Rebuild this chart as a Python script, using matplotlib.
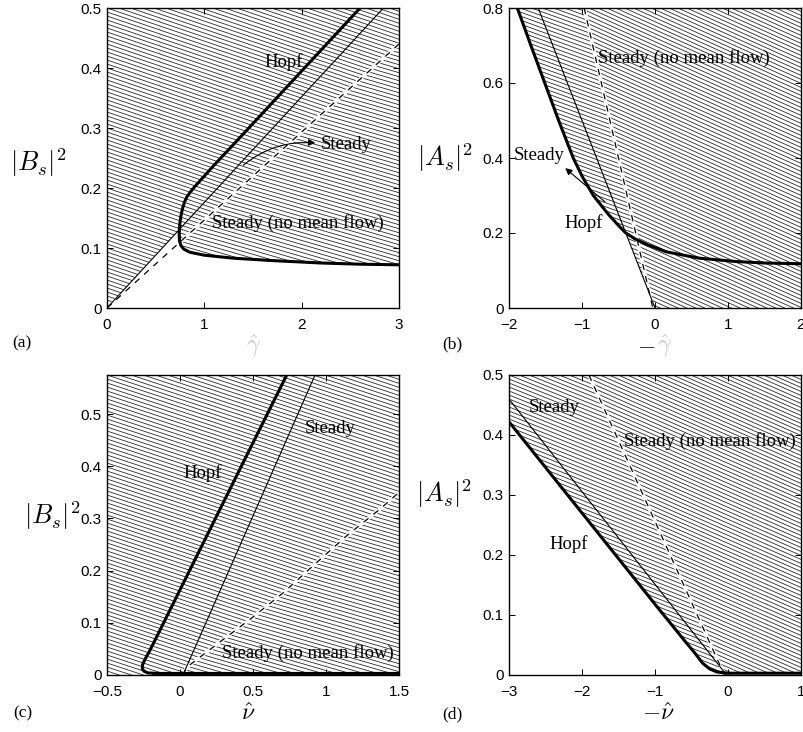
import numpy as np
import matplotlib
matplotlib.use('Agg')
import matplotlib.pyplot as plt
from matplotlib.patches import Polygon
from matplotlib.collections import LineCollection
from matplotlib.ticker import FuncFormatter

plt.rcParams['mathtext.fontset'] = 'cm'
plt.rcParams['font.family'] = 'Liberation Sans'

# --- données ---
# (a)  |B_s|^2 en fonction de gamma
hopf_a_x = [2.60, 2.2, 1.8, 1.4, 1.1, 1.0, 0.9, 0.85, 0.82, 0.795, 0.775, 0.76, 0.75, 0.744, 0.742,
            0.745, 0.76, 0.79, 0.85, 1.0, 1.3, 1.7, 2.2, 2.6, 3.0]
hopf_a_y = [0.5, 0.43, 0.36, 0.29, 0.238, 0.22, 0.202, 0.192, 0.185, 0.176, 0.165, 0.154, 0.143, 0.132, 0.122,
            0.112, 0.104, 0.098, 0.093, 0.088, 0.083, 0.079, 0.075, 0.073, 0.072]
steady_a_x = [0.0, 2.84]
steady_a_y = [0.0, 0.5]
nomf_a_x = [0.0, 3.0]
nomf_a_y = [0.0, 0.44]

# (b)  |A_s|^2 en fonction de -gamma
hopf_b_x = [-1.886, -1.70, -1.51, -1.32, -1.12, -0.995, -0.845, -0.64, -0.50, -0.40, -0.28, -0.12, 0.15, 0.6, 1.1, 1.5, 2.0]
hopf_b_y = [0.8, 0.7, 0.6, 0.5, 0.4, 0.35, 0.3, 0.25, 0.22, 0.2, 0.185, 0.17, 0.15, 0.133, 0.124, 0.12, 0.118]
steady_b_x = [-1.6, 0.0]
steady_b_y = [0.8, 0.0]
nomf_b_x = [-0.97, -0.03]
nomf_b_y = [0.8, 0.0]

# (c)  |B_s|^2 en fonction de nu
hopf_c_x = [0.731, 0.45, 0.2, -0.05, -0.16, -0.21, -0.24, -0.256, -0.258, -0.245, -0.22, -0.15, 0.0, 0.5, 1.0, 1.5]
hopf_c_y = [0.575, 0.417, 0.276, 0.135, 0.073, 0.045, 0.03, 0.02, 0.012, 0.007, 0.004, 0.003, 0.003, 0.003, 0.003, 0.003]
steady_c_x = [0.02, 0.925]
steady_c_y = [0.0, 0.575]
nomf_c_x = [0.02, 0.047, 0.253, 0.481, 0.709, 0.914, 1.142, 1.37, 1.5]
nomf_c_y = [0.0, 0.015, 0.059, 0.107, 0.158, 0.21, 0.267, 0.318, 0.35]

# (d)  |A_s|^2 en fonction de -nu
hopf_d_x = [-3.0, -2.0, -1.0, -0.6, -0.45, -0.35, -0.25, -0.15, 0.0, 0.5, 1.0]
hopf_d_y = [0.422, 0.27, 0.118, 0.058, 0.036, 0.02, 0.01, 0.005, 0.003, 0.003, 0.003]
steady_d_x = [-3.0, -0.02]
steady_d_y = [0.46, 0.0]
nomf_d_x = [-1.905, -0.05]
nomf_d_y = [0.5, 0.0]

SERIF = 'Liberation Serif'
FS_TXT = 13.5
FS_YLAB = 19
FS_XLAB = 17


def hachurer(ax, px, py, pente, ecart=4.0, fond=False, z=1.0):
    """Hachures obliques (pente en pixels) limitées au polygone (px, py) en coordonnées données"""
    poly = Polygon(np.column_stack([px, py]), closed=True,
                   facecolor='white' if fond else 'none', edgecolor='none', zorder=z)
    ax.add_patch(poly)
    fig = ax.figure
    bb = ax.get_position()
    w = bb.width * fig.get_figwidth() * fig.dpi
    h = bb.height * fig.get_figheight() * fig.dpi
    chute = pente * w / h
    pas = ecart / h
    decal = np.arange(0.0, 1.0 + chute + pas, pas)
    segs = [[(0.0, c), (1.0, c - chute)] for c in decal]
    lc = LineCollection(segs, colors='#2a2a2a', linewidths=0.6,
                        transform=ax.transAxes, zorder=z + 0.05)
    lc.set_clip_path(poly)
    ax.add_collection(lc, autolim=False)


def bande(xs, bas, haut):
    return np.concatenate([xs, xs[::-1]]), np.concatenate([bas, haut[::-1]])


def tracer_courbes(ax, hx, hy, sx, sy, nx, ny):
    ax.plot(nx, ny, color='white', lw=2.6, zorder=2, solid_capstyle='butt')
    ax.plot(nx, ny, color='black', lw=0.9, dashes=(5, 5), zorder=3)
    ax.plot(sx, sy, color='black', lw=0.8, zorder=3)
    ax.plot(hx, hy, color='black', lw=2.2, zorder=4, solid_joinstyle='round')


def habiller(ax, xlim, ylim, xticks, yticks):
    ax.set_xlim(*xlim)
    ax.set_ylim(*ylim)
    ax.set_xticks(xticks)
    ax.set_yticks(yticks)
    fmt = FuncFormatter(lambda v, p: f'{v:g}'.replace('-', '\u2212'))
    ax.xaxis.set_major_formatter(fmt)
    ax.yaxis.set_major_formatter(fmt)
    ax.tick_params(direction='in', top=True, right=True, length=4, width=0.7, labelsize=11)
    ax.tick_params(axis='x', pad=7.5)
    ax.tick_params(axis='y', pad=4)
    for s in ax.spines.values():
        s.set_linewidth(1.0)
        s.set_zorder(5)


fig = plt.figure(figsize=(8.04, 7.32), dpi=100)
W, H = 804, 732
ax_a = fig.add_axes([107 / W, (H - 308) / H, 292 / W, 300 / H])
ax_b = fig.add_axes([509 / W, (H - 308) / H, 292 / W, 300 / H])
ax_c = fig.add_axes([107 / W, (H - 675) / H, 292 / W, 300 / H])
ax_d = fig.add_axes([509 / W, (H - 675) / H, 292 / W, 300 / H])

# ---------------- (a)
tip = int(np.argmin(hopf_a_x))
low_x = np.array(hopf_a_x[tip:])
low_y = np.array(hopf_a_y[tip:])
xs = np.linspace(0, 3, 400)
bas = np.minimum(np.interp(xs, steady_a_x, steady_a_y), np.interp(xs, low_x, low_y))
hachurer(ax_a, *bande(xs, bas, np.full_like(xs, 0.5)), pente=0.34)
xs = np.linspace(0.78, 3, 300)
hachurer(ax_a, *bande(xs, np.interp(xs, low_x, low_y), np.interp(xs, nomf_a_x, nomf_a_y)),
         pente=0.29, fond=True, z=1.2)
tracer_courbes(ax_a, hopf_a_x, hopf_a_y, steady_a_x, steady_a_y, nomf_a_x, nomf_a_y)
habiller(ax_a, (0, 3), (0, 0.5), [0, 1, 2, 3], np.arange(0, 0.51, 0.1))
ax_a.text(1.82, 0.41, 'Hopf', family=SERIF, fontsize=FS_TXT, ha='center', va='center', zorder=6)
ax_a.text(2.2, 0.272, 'Steady', family=SERIF, fontsize=FS_TXT, ha='left', va='center', zorder=6)
ax_a.text(1.96, 0.142, 'Steady (no mean flow)', family=SERIF, fontsize=FS_TXT, ha='center', va='center', zorder=6)
ax_a.annotate('', xy=(2.14, 0.275), xytext=(1.4, 0.238), zorder=6,
              arrowprops=dict(arrowstyle='-|>', lw=0.8, color='black', mutation_scale=10,
                              connectionstyle='arc3,rad=-0.2', shrinkA=0, shrinkB=0))
ax_a.text(-0.236, 0.483, r'$|B_s|^2$', transform=ax_a.transAxes, fontsize=FS_YLAB, ha='center', va='center')
ax_a.text(0.5, -0.125, r'$\hat{\gamma}$', transform=ax_a.transAxes, fontsize=FS_XLAB, ha='center', va='center', color='#c8c8c8')
ax_a.text(-0.29, -0.117, '(a)', transform=ax_a.transAxes, family=SERIF, fontsize=12.5, ha='center', va='center')

# ---------------- (b)
xs = np.linspace(-1.886, 2, 400)
bas = np.minimum(np.interp(xs, hopf_b_x, hopf_b_y), np.interp(xs, steady_b_x, steady_b_y))
hachurer(ax_b, *bande(xs, bas, np.full_like(xs, 0.8)), pente=0.36)
xs2 = np.linspace(-0.97, 2, 300)
bas2 = np.maximum(np.interp(xs2, nomf_b_x, nomf_b_y),
                  np.minimum(np.interp(xs2, hopf_b_x, hopf_b_y), np.interp(xs2, steady_b_x, steady_b_y)))
hachurer(ax_b, *bande(xs2, bas2, np.full_like(xs2, 0.8)), pente=0.45, fond=True, z=1.2)
tracer_courbes(ax_b, hopf_b_x, hopf_b_y, steady_b_x, steady_b_y, nomf_b_x, nomf_b_y)
habiller(ax_b, (-2, 2), (0, 0.8), [-2, -1, 0, 1, 2], np.arange(0, 0.81, 0.2))
ax_b.text(0.40, 0.667, 'Steady (no mean flow)', family=SERIF, fontsize=FS_TXT, ha='center', va='center', zorder=6)
ax_b.text(-1.59, 0.408, 'Steady', family=SERIF, fontsize=FS_TXT, ha='center', va='center', zorder=6)
ax_b.text(-0.97, 0.227, 'Hopf', family=SERIF, fontsize=FS_TXT, ha='center', va='center', zorder=6)
ax_b.annotate('', xy=(-1.23, 0.373), xytext=(-0.685, 0.283), zorder=6,
              arrowprops=dict(arrowstyle='-|>', lw=0.8, color='black', mutation_scale=10,
                              shrinkA=0, shrinkB=0))
ax_b.text(-0.219, 0.5, r'$|A_s|^2$', transform=ax_b.transAxes, fontsize=FS_YLAB, ha='center', va='center')
ax_b.text(0.47, -0.125, r'$-$', transform=ax_b.transAxes, fontsize=FS_XLAB, ha='center', va='center')
ax_b.text(0.534, -0.125, r'$\hat{\gamma}$', transform=ax_b.transAxes, fontsize=FS_XLAB, ha='center', va='center', color='#c8c8c8')
ax_b.text(-0.195, -0.12, '(b)', transform=ax_b.transAxes, family=SERIF, fontsize=12.5, ha='center', va='center')

# ---------------- (c)
xs = np.linspace(-0.5, 1.5, 300)
hachurer(ax_c, *bande(xs, np.zeros_like(xs), np.full_like(xs, 0.575)), pente=0.33)
xs2 = np.linspace(0.02, 1.5, 300)
hachurer(ax_c, *bande(xs2, np.zeros_like(xs2), np.interp(xs2, nomf_c_x, nomf_c_y)),
         pente=0.29, fond=True, z=1.2)
tracer_courbes(ax_c, hopf_c_x, hopf_c_y, steady_c_x, steady_c_y, nomf_c_x, nomf_c_y)
habiller(ax_c, (-0.5, 1.5), (0, 0.575), [-0.5, 0, 0.5, 1, 1.5], np.arange(0, 0.51, 0.1))
ax_c.text(0.158, 0.387, 'Hopf', family=SERIF, fontsize=FS_TXT, ha='center', va='center', zorder=6)
ax_c.text(1.03, 0.473, 'Steady', family=SERIF, fontsize=FS_TXT, ha='center', va='center', zorder=6)
ax_c.text(0.877, 0.042, 'Steady (no mean flow)', family=SERIF, fontsize=FS_TXT, ha='center', va='center', zorder=6)
ax_c.text(-0.188, 0.53, r'$|B_s|^2$', transform=ax_c.transAxes, fontsize=FS_YLAB, ha='center', va='center')
ax_c.text(0.485, -0.13, r'$\hat{\nu}$', transform=ax_c.transAxes, fontsize=FS_XLAB, ha='center', va='center')
ax_c.text(-0.29, -0.127, '(c)', transform=ax_c.transAxes, family=SERIF, fontsize=12.5, ha='center', va='center')

# ---------------- (d)
xs = np.linspace(-3, 1, 400)
hachurer(ax_d, *bande(xs, np.interp(xs, hopf_d_x, hopf_d_y), np.full_like(xs, 0.5)), pente=0.40)
xs2 = np.linspace(-1.905, 1, 300)
bas2 = np.maximum(np.interp(xs2, nomf_d_x, nomf_d_y), np.interp(xs2, hopf_d_x, hopf_d_y))
hachurer(ax_d, *bande(xs2, bas2, np.full_like(xs2, 0.5)), pente=0.44, fond=True, z=1.2)
tracer_courbes(ax_d, hopf_d_x, hopf_d_y, steady_d_x, steady_d_y, nomf_d_x, nomf_d_y)
habiller(ax_d, (-3, 1), (0, 0.5), [-3, -2, -1, 0, 1], np.arange(0, 0.51, 0.1))
ax_d.text(-2.38, 0.445, 'Steady', family=SERIF, fontsize=FS_TXT, ha='center', va='center', zorder=6)
ax_d.text(-0.247, 0.39, 'Steady (no mean flow)', family=SERIF, fontsize=FS_TXT, ha='center', va='center', zorder=6)
ax_d.text(-2.18, 0.218, 'Hopf', family=SERIF, fontsize=FS_TXT, ha='center', va='center', zorder=6)
ax_d.text(-0.222, 0.603, r'$|A_s|^2$', transform=ax_d.transAxes, fontsize=FS_YLAB, ha='center', va='center')
ax_d.text(0.51, -0.13, r'$-\hat{\nu}$', transform=ax_d.transAxes, fontsize=FS_XLAB, ha='center', va='center')
ax_d.text(-0.195, -0.13, '(d)', transform=ax_d.transAxes, family=SERIF, fontsize=12.5, ha='center', va='center')

fig.savefig('out.png', dpi=100)
